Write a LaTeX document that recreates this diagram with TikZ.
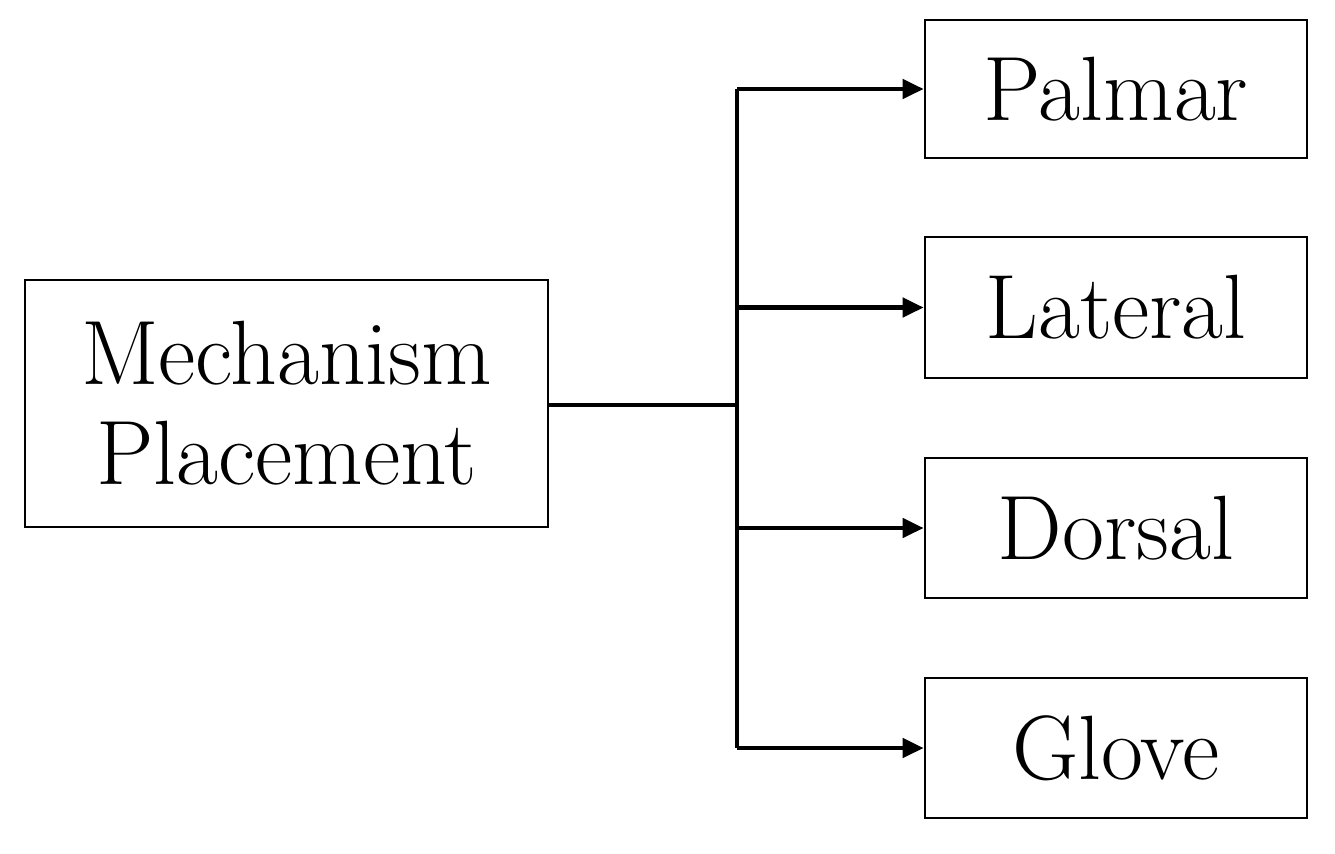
\documentclass[tikz,border=0pt]{standalone}
\usepackage{tikz}
\usetikzlibrary{arrows.meta}
\begin{document}
\begin{tikzpicture}[x=0.02cm, y=-0.02cm,
  boite/.style={shape=rectangle, draw, line width=1.6pt, inner sep=0pt, font=\fontsize{52}{57}\selectfont},
  fleche/.style={line width=2.4pt, -{Triangle[length=12pt, width=11pt]}}]
            \useasboundingbox (0,0) rectangle (1335,853);
            \node (mp) [boite, minimum width=523*0.02cm, minimum height=247*0.02cm, align=center] at (286.5,403.5) {Mechanism\\Placement};
            \node (p) [boite, minimum width=382*0.02cm, minimum height=138*0.02cm] at (1116,89) {Palmar};
            \node (l) [boite, minimum width=382*0.02cm, minimum height=141*0.02cm] at (1116,307.5) {Lateral};
            \node (d) [boite, minimum width=382*0.02cm, minimum height=140*0.02cm] at (1116,528) {Dorsal};
            \node (g) [boite, minimum width=382*0.02cm, minimum height=140*0.02cm] at (1116,748) {Glove};
            \coordinate (j) at (737,405);
            \coordinate (jh) at (737,89);
            \coordinate (jb) at (737,748);

            \draw[line width=2.4pt] (mp.east |- j) -- (j);
            \draw[line width=2.4pt] (jh) -- (jb);
            \draw[fleche] (jh) -- (p.west);
            \draw[fleche] (j |- l.west) -- (l.west);
            \draw[fleche] (j |- d.west) -- (d.west);
            \draw[fleche] (jb) -- (g.west);
        \end{tikzpicture}
\end{document}
